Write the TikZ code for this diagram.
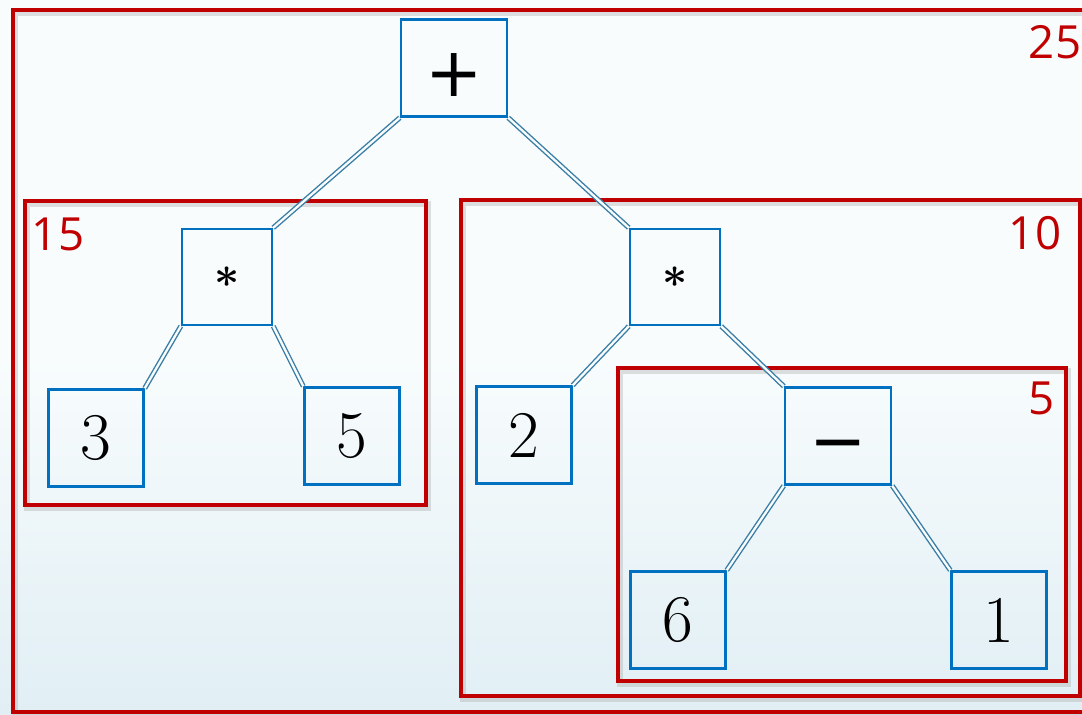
\documentclass[tikz,border=0pt]{standalone}
\usepackage{fontspec}
\newfontfamily\labelfont{Open Sans}
\newfontfamily\opfont{DejaVu Sans}
\usetikzlibrary{positioning}
\definecolor{framered}{RGB}{192,0,0}
\definecolor{boxblue}{RGB}{0,112,192}
\definecolor{edgeblue}{RGB}{58,125,165}
\definecolor{bgtop}{RGB}{248,252,253}
\definecolor{bgmid}{RGB}{222,237,243}
\definecolor{bgbottom}{RGB}{205,227,235}
\pgfdeclareverticalshading{bgshade}{100bp}{color(0bp)=(bgbottom); color(22bp)=(bgmid); color(50bp)=(bgtop); color(100bp)=(bgtop)}
\newcommand{\opsym}[1]{\raisebox{-0.42em}[0pt][0pt]{#1}}

\begin{document}
\begin{tikzpicture}[x=0.02cm, y=-0.02cm,
    term/.style={draw=boxblue, line width=1.4pt, minimum width=1.9cm, minimum height=1.94cm, inner sep=0pt, font=\fontsize{38}{42}\selectfont},
    op/.style={term, minimum width=2.12cm, font=\opfont\fontsize{39}{43}\selectfont},
    mul/.style={term, minimum width=1.8cm, minimum height=1.92cm, font=\fontsize{30}{34}\selectfont\boldmath},
    frame/.style={draw=framered, line width=2pt, preaction={draw=black!35, opacity=0.35, line width=3.5pt, transform canvas={shift={(1.2pt,-1.8pt)}}}},
    sum/.style={text=framered, font=\labelfont\fontsize{26}{28}\selectfont, inner sep=0pt},
    link/.style={draw=edgeblue, double=bgtop, double distance=1.3pt, line width=0.8pt}
  ]
  \useasboundingbox (0,0) rectangle (1082,714);
  \clip (0,0) rectangle (1082,714);
  \shade[shading=bgshade] (0,0) rectangle (1082,714);

  % subtree frames with their values
  \draw[frame] (13,10) rectangle (1095,712);
  \draw[frame] (25,201) rectangle (426,505);
  \draw[frame] (461,200) rectangle (1080,696);
  \draw[frame] (618,368) rectangle (1066,681);
  \node[sum] (v25) at (1055,42) {25};
  \node[sum] (v15) at (58,234) {15};
  \node[sum] (v10) at (1035,233) {10};
  \node[sum] (v5) at (1042,398) {5};

  % expression tree
  \node[op] (plus) at (454,68) {\opsym{+}};
  \node[mul] (mulL) at (227,277) {$*$};
  \node[term] (three) at (96,438) {3};
  \node[term] (five) at (352,436) {5};
  \node[mul] (mulR) at (675,277) {$*$};
  \node[term] (two) at (524,435) {2};
  \node[op] (minus) at (838,436) {\opsym{−}};
  \node[term] (six) at (678,620) {6};
  \node[term] (one) at (999,620) {1};

  \draw[link] (plus.south west) -- (mulL.north east);
  \draw[link] (plus.south east) -- (mulR.north west);
  \draw[link] (mulL.south west) -- (three.north east);
  \draw[link] (mulL.south east) -- (five.north west);
  \draw[link] (mulR.south west) -- (two.north east);
  \draw[link] (mulR.south east) -- (minus.north west);
  \draw[link] (minus.south west) -- (six.north east);
  \draw[link] (minus.south east) -- (one.north west);
\end{tikzpicture}
\end{document}
